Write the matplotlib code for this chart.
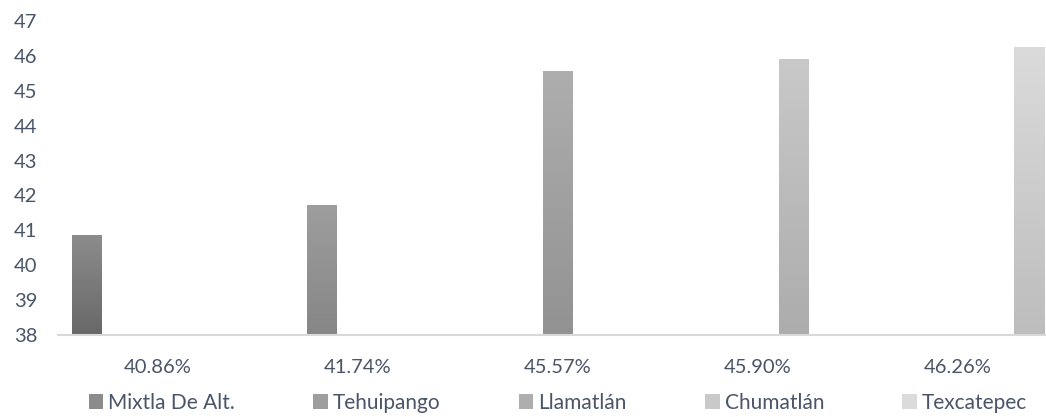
import matplotlib
matplotlib.use("Agg")
import matplotlib.pyplot as plt
import numpy as np
from matplotlib.colors import LinearSegmentedColormap
from matplotlib.patches import Rectangle

categories = ["40.86%", "41.74%", "45.57%", "45.90%", "46.26%"]
series_names = ["Mixtla De Alt.", "Tehuipango", "Llamatlán", "Chumatlán", "Texcatepec"]
values = [40.86, 41.74, 45.57, 45.90, 46.26]
y_ticks = [38, 39, 40, 41, 42, 43, 44, 45, 46, 47]
# gradient (bottom, top) per series
grad_colors = [("#686868", "#8c8c8c"), ("#868686", "#9e9e9e"), ("#929292", "#aeaeae"),
               ("#acacac", "#c9c9c9"), ("#bdbdbd", "#dbdbdb")]

TEXT = "#4a5568"
plt.rcParams['font.family'] = ['Lato', 'DejaVu Sans']

fig = plt.figure(figsize=(10.46, 4.17), dpi=100)
ax = fig.add_axes([58/1046, 82/417, 1000/1046, 314/417])

ymin = y_ticks[0]
n = len(series_names)
width = 0.15
step = 0.178
x = np.arange(len(categories))
handles = []
for j, (name, v) in enumerate(zip(series_names, values)):
    xc = x[j] + (j - (n - 1) / 2) * step
    bars = ax.bar([xc], [v - ymin], bottom=ymin, width=width, color=grad_colors[j][0],
                  edgecolor='none', label=name)
    cmap = LinearSegmentedColormap.from_list("g%d" % j, [grad_colors[j][0], grad_colors[j][1]])
    grad = np.linspace(0, 1, 256).reshape(-1, 1)
    b = bars[0]
    im = ax.imshow(grad, cmap=cmap, origin='lower', aspect='auto',
                   extent=[b.get_x(), b.get_x() + b.get_width(), ymin, v], zorder=2)
    im.set_clip_path(b)
    handles.append(Rectangle((0, 0), 1, 1, facecolor=grad_colors[j][1], edgecolor='none'))

ax.set_xlim(-0.5, len(categories) - 0.5)
ax.set_ylim(ymin, y_ticks[-1])
ax.set_yticks(y_ticks)
ax.set_xticks(x)
ax.set_xticklabels(categories)
ax.tick_params(axis='y', length=0, pad=15, labelsize=14.5, labelcolor=TEXT)
ax.tick_params(axis='x', length=0, pad=17, labelsize=14.5, labelcolor=TEXT)
for s in ['top', 'right', 'left']:
    ax.spines[s].set_visible(False)
ax.spines['bottom'].set_color('#d9d9d9')
ax.spines['bottom'].set_linewidth(1.5)

leg = ax.legend(handles, series_names, loc='center', bbox_to_anchor=(0.5, -(403 - 335) / 314),
                ncol=5, frameon=False, fontsize=15, handlelength=0.7, handleheight=0.7,
                handletextpad=0.25, columnspacing=3.75, borderaxespad=0)
for t in leg.get_texts():
    t.set_color(TEXT)

fig.savefig("out.png", dpi=100)
